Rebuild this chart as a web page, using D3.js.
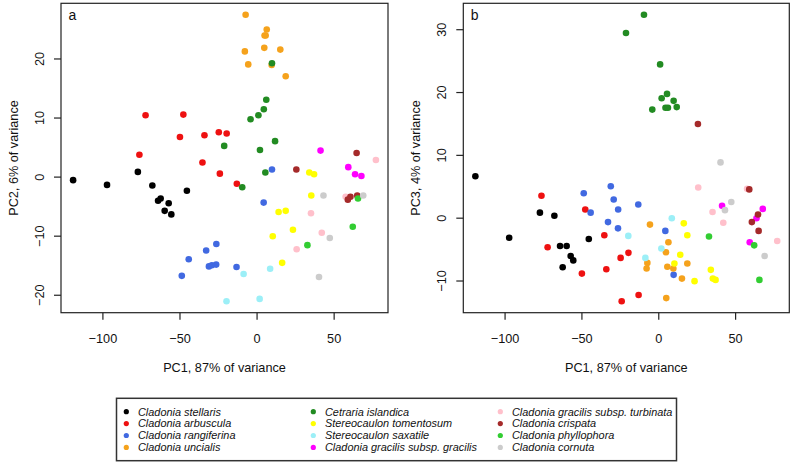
<!DOCTYPE html>
<html>
<head>
<meta charset="utf-8">
<script src="https://cdn.jsdelivr.net/npm/d3@7"></script>
<style>
  html, body { margin: 0; padding: 0; background: #fff; }
  svg { display: block; font-family: "Liberation Sans", Arial, Helvetica, sans-serif; }
</style>
</head>
<body>
<svg id="chart" width="793" height="465"></svg>
<script>
// ---- data ----
const speciesNames = [
  "Cladonia stellaris", "Cladonia arbuscula", "Cladonia rangiferina", "Cladonia uncialis",
  "Cetraria islandica", "Stereocaulon tomentosum", "Stereocaulon saxatile", "Cladonia gracilis subsp. gracilis",
  "Cladonia gracilis subsp. turbinata", "Cladonia crispata", "Cladonia phyllophora", "Cladonia cornuta"
];
const speciesColors = [
  "#000000", "#ee1111", "#4169e1", "#f5a21c",
  "#228b22", "#ffff00", "#9ceff7", "#ff00ff",
  "#ffc0cb", "#a52a2a", "#32cd32", "#cccccc"
];
// per-species samples
const pc1 = [
  [-119, -97, -77, -67.6, -45.2, -62.2, -63.9, -57, -59.6, -55.3],
  [-72, -47.5, -49.7, -33.8, -24.5, -19.4, -76, -35.1, -23.8, -12.8],
  [10.0, 4.6, -26.1, -32.7, -44, -48.5, -30.9, -29, -26.2, -13],
  [-5.4, -7.1, -7.6, 6.6, 5.0, 5.9, 5.2, 9.8, 15.4, 18.9],
  [-9.3, -21, 1.2, 5.7, 2.2, 10, 12, -3.9, 4.7, 6.3],
  [34.2, 37.3, 35.5, 14.3, 18.9, 23.6, 10.5, 16.6],
  [-8.4, 8.8, -19.5, 2.0],
  [41.5, 59.5, 63.9, 68.0],
  [77.4, 57.8, 35.3, 42.3, 26.0],
  [25.8, 64.9, 60.9, 59.2, 65.3],
  [65.8, 62.4, 33.0],
  [43.4, 69.2, 47.5, 40.5]
];
const pc2 = [
  [-0.6, -1.4, 0.8, -1.5, -2.4, -3.7, -4.1, -4.5, -5.8, -6.4],
  [10.4, 10.5, 6.7, 7.0, 7.5, 7.3, 3.7, 2.4, 0.5, -1.2],
  [1.2, -4.4, -11.4, -12.5, -14, -16.8, -15.2, -15.0, -14.9, -15.3],
  [19.0, 27.4, 21.2, 24.9, 21.8, 23.9, 23.9, 18.9, 21.5, 17.0],
  [-1.8, 5.2, 10.4, 0.7, 4.5, 19.2, 6.0, 9.7, 11.4, 13.0],
  [0.7, 0.4, -3.2, -6.0, -5.8, -9.0, -10.1, -14.6],
  [-16.5, -15.6, -21.1, -20.7],
  [4.4, 1.6, 0.4, 0.1],
  [2.8, -3.4, -6.2, -9.5, -12.3],
  [1.2, 4.0, -3.4, -3.9, -3.2],
  [-3.7, -8.5, -11.6],
  [-3.2, -3.2, -10.4, -17.0]
];
const pc3 = [
  [6.6, -3.2, 0.8, 0.3, -3.4, -7.9, -4.5, -6.1, -4.5, -6.8],
  [-4.7, 1.3, -8.9, -8.2, -6.4, -5.6, 3.5, -2.8, -13.3, -12.3],
  [-9.1, -2.1, 1.3, -0.7, 0.8, 3.9, 5.0, 2.9, -1.7, 2.1],
  [-1.1, -7.2, -8.1, -3.9, -5.5, -7.8, -12.8, -8.1, -9.7, -7.3],
  [32.3, 29.4, 24.4, 19.7, 19.0, 18.6, 17.6, 17.2, 17.5, 17.5],
  [-8.3, -9.9, -9.7, -5.9, -2.8, -10.1, -7.3, -0.9],
  [-6.4, -0.1, -2.9, -4.9],
  [1.9, -3.9, -0.1, 1.4],
  [-3.7, 4.6, 0.9, -0.8, 4.8],
  [14.9, 0.5, -0.7, 4.5, -2.1],
  [-9.9, -4.4, -3.0],
  [1.2, -6.1, 2.5, 8.8]
];
const xTicks = [-100, -50, 0, 50];
const yTicksA = [-20, -10, 0, 10, 20];
const yTicksB = [-10, 0, 10, 20, 30];
const xTitle = "PC1, 87% of variance";
const yTitleA = "PC2, 6% of variance";
const yTitleB = "PC3, 4% of variance";

// ---- build samples ----
const samples = [];
speciesNames.forEach((s, i) => {
  pc1[i].forEach((v, j) => samples.push({ sp: i, pc1: v, pc2: pc2[i][j], pc3: pc3[i][j] }));
});

function padExtent(vals) {
  const [lo, hi] = d3.extent(vals);
  const d = (hi - lo) * 0.04;
  return [lo - d, hi + d];
}

const svg = d3.select("#chart");
const FONT = 12.7;
const fmt = d => d3.format("")(d).replace("-", "\u2212");

function panel(cfg) {
  const x = d3.scaleLinear().domain(padExtent(samples.map(d => d.pc1))).range([cfg.left, cfg.right]);
  const y = d3.scaleLinear().domain(padExtent(samples.map(d => d[cfg.key]))).range([cfg.bottom, cfg.top]);
  const g = svg.append("g");

  // points
  g.selectAll("circle.pt").data(samples).join("circle")
    .attr("class", "pt")
    .attr("cx", d => x(d.pc1))
    .attr("cy", d => y(d[cfg.key]))
    .attr("r", 3.3)
    .attr("fill", d => speciesColors[d.sp]);

  // box
  g.append("rect")
    .attr("x", cfg.left).attr("y", cfg.top)
    .attr("width", cfg.right - cfg.left).attr("height", cfg.bottom - cfg.top)
    .attr("fill", "none").attr("stroke", "#222").attr("stroke-width", 1.2);

  // x axis
  const xa = g.append("g").attr("transform", `translate(0,${cfg.bottom})`)
    .call(d3.axisBottom(x).tickValues(xTicks).tickSize(7).tickPadding(14.5).tickFormat(fmt));
  xa.select(".domain").remove();
  xa.selectAll("line").attr("stroke", "#222").attr("stroke-width", 1.2);
  xa.selectAll("text").attr("font-size", FONT).attr("fill", "#111").attr("font-family", null);

  // y axis
  const ya = g.append("g").attr("transform", `translate(${cfg.left},0)`)
    .call(d3.axisLeft(y).tickValues(cfg.yTicks).tickSize(7).tickPadding(0).tickFormat(fmt));
  ya.select(".domain").remove();
  ya.selectAll("line").attr("stroke", "#222").attr("stroke-width", 1.2);
  ya.selectAll("text")
    .attr("font-size", FONT).attr("fill", "#111").attr("font-family", null)
    .attr("x", null).attr("dy", null).attr("y", 0)
    .attr("text-anchor", "middle")
    .attr("transform", "translate(-17,0) rotate(-90)");

  // titles
  g.append("text")
    .attr("x", (cfg.left + cfg.right) / 2).attr("y", 372)
    .attr("text-anchor", "middle").attr("font-size", FONT).attr("fill", "#111")
    .text(xTitle);
  g.append("text")
    .attr("transform", `translate(${cfg.left - 43},${(cfg.top + cfg.bottom) / 2}) rotate(-90)`)
    .attr("text-anchor", "middle").attr("font-size", FONT).attr("fill", "#111")
    .text(cfg.yTitle);
  g.append("text")
    .attr("x", cfg.left + 7.5).attr("y", 20)
    .attr("font-size", 14).attr("fill", "#111")
    .text(cfg.label);
}

panel({ left: 61, right: 388, top: 3.3, bottom: 312.7, key: "pc2", yTicks: yTicksA, yTitle: yTitleA, label: "a" });
panel({ left: 463.3, right: 789.3, top: 3.3, bottom: 312.7, key: "pc3", yTicks: yTicksB, yTitle: yTitleB, label: "b" });

// ---- legend ----
const lg = svg.append("g");
const legLeft = 116.5, legRight = 676.5, legTop = 398.3, legBottom = 460.7;
lg.append("rect")
  .attr("x", legLeft).attr("y", legTop)
  .attr("width", legRight - legLeft).attr("height", legBottom - legTop)
  .attr("fill", "#fff").attr("stroke", "#333").attr("stroke-width", 1.5);
const colX = d3.scaleLinear().domain([0, 1]).range([126.3, 313.3]);
const rowY = d3.scaleLinear().domain([0, 1]).range([411.7, 423.6]);
const items = lg.selectAll("g.item").data(speciesNames).join("g")
  .attr("class", "item")
  .attr("transform", (d, i) => `translate(${colX(Math.floor(i / 4))},${rowY(i % 4)})`);
items.append("circle").attr("r", 2.6).attr("fill", (d, i) => speciesColors[i]);
items.append("text")
  .attr("x", 11.7).attr("dy", "0.35em")
  .attr("font-size", 10.9).attr("font-style", "italic").attr("fill", "#111")
  .text(d => d);
</script>
</body>
</html>
